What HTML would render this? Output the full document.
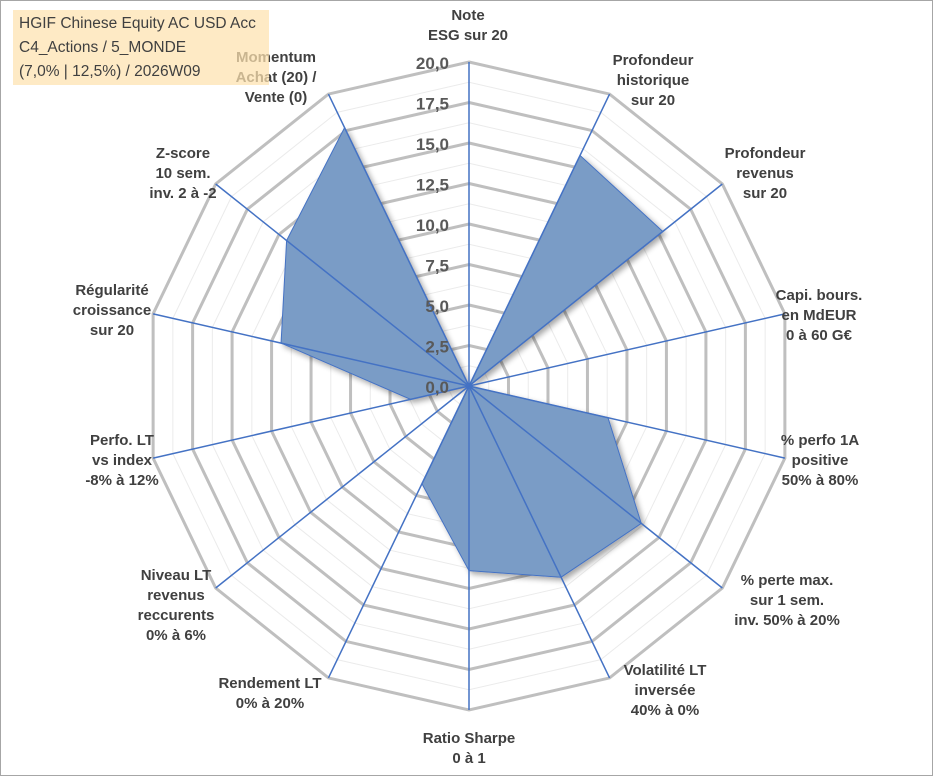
<!DOCTYPE html>
<html><head><meta charset="utf-8"><style>
body{margin:0;width:933px;height:776px;background:#fff;overflow:hidden;font-family:"Liberation Sans",sans-serif}
#frame{position:absolute;left:0;top:0;width:931px;height:774px;border:1px solid #a6a6a6}
#title{position:absolute;left:13px;top:10px;width:256px;height:75px;background:rgba(253,226,175,0.72);color:#404040;font-size:15.5px;line-height:24px;padding:2px 0 0 6px;box-sizing:border-box}
svg{position:absolute;left:0;top:0}
</style></head><body>
<div id="frame"></div>
<svg id="chart" width="933" height="776"></svg>
<div id="title">HGIF Chinese Equity AC USD Acc<br>C4_Actions / 5_MONDE<br>(7,0% | 12,5%) / 2026W09</div>
<script>
const categories=[["Note","ESG sur 20"],["Profondeur","historique","sur 20"],["Profondeur","revenus","sur 20"],["Capi. bours.","en MdEUR","0 à 60 G€"],["% perfo 1A","positive","50% à 80%"],["% perte max.","sur 1 sem.","inv. 50% à 20%"],["Volatilité LT","inversée","40% à 0%"],["Ratio Sharpe","0 à 1"],["Rendement LT","0% à 20%"],["Niveau LT","revenus","reccurents","0% à 6%"],["Perfo. LT","vs index","-8% à 12%"],["Régularité","croissance","sur 20"],["Z-score","10 sem.","inv. 2 à -2"],["Momentum","Achat (20) /","Vente (0)"]];
const values=[0,15.8,15.3,0,8.8,13.6,13.1,11.4,6.7,0,3.7,11.9,14.4,17.7];
const tickLabels=["0,0","2,5","5,0","7,5","10,0","12,5","15,0","17,5","20,0"];
const tickValues=[0,2.5,5,7.5,10,12.5,15,17.5,20];
const labelPos=[[468,20],[653,65],[765,158],[819,300],[820,445],[787,585],[665,675],[469,743],[270,688],[176,580],[122,445],[112,295],[183,158],[276,62]];
const cx=469,cy=386,R=324,maxV=20,N=categories.length;
const svg=document.getElementById('chart');
const NS='http://www.w3.org/2000/svg';
function ang(i){return i*2*Math.PI/N;}
function pt(i,v){const r=v/maxV*R;return [cx+r*Math.sin(ang(i)),cy-r*Math.cos(ang(i))];}
function mk(t,a){const e=document.createElementNS(NS,t);for(const k in a)e.setAttribute(k,a[k]);svg.appendChild(e);return e;}
const defs=mk('defs',{});
defs.innerHTML='<filter id="sh" x="-20%" y="-20%" width="140%" height="140%"><feGaussianBlur in="SourceAlpha" stdDeviation="3"/><feOffset dx="3" dy="3"/><feComponentTransfer><feFuncA type="linear" slope="0.35"/></feComponentTransfer><feMerge><feMergeNode/><feMergeNode in="SourceGraphic"/></feMerge></filter>';
for(let v=1.25;v<20;v+=2.5){
  const p=mk('polygon',{points:categories.map((c,i)=>pt(i,v).join(',')).join(' '),fill:'none',stroke:'#ebebeb','stroke-width':1});
  
  
}
tickValues.forEach(v=>{if(v===0)return;
  const p=mk('polygon',{points:categories.map((c,i)=>pt(i,v).join(',')).join(' '),fill:'none',stroke:'#bfbfbf','stroke-width':3});
  
  
});
const poly=mk('polygon',{points:values.map((v,i)=>pt(i,v).join(',')).join(' '),fill:'#7a9cc6',stroke:'#4472c4','stroke-width':1,filter:'url(#sh)'});


categories.forEach((c,i)=>{const e=pt(i,maxV);
  const l=mk('line',{x1:cx,y1:cy,x2:e[0],y2:e[1],stroke:'#4472c4','stroke-width':1.5});
  
  
});
tickValues.forEach((v,k)=>{
  const t=mk('text',{x:cx-20,y:cy-v/maxV*R+7,'text-anchor':'end','font-size':17,'font-weight':'bold',fill:'#595959'});
  t.textContent=tickLabels[k];
  
  
});
categories.forEach((c,i)=>{
  const t=mk('text',{x:labelPos[i][0],y:labelPos[i][1],'text-anchor':'middle','font-size':15,'font-weight':'bold',fill:'#404040'});
  c.forEach((s,j)=>{const ts=document.createElementNS(NS,'tspan');ts.setAttribute('x',labelPos[i][0]);ts.setAttribute('dy',j?20:0);ts.textContent=s;t.appendChild(ts);});
  
  
});
</script>
</body></html>
